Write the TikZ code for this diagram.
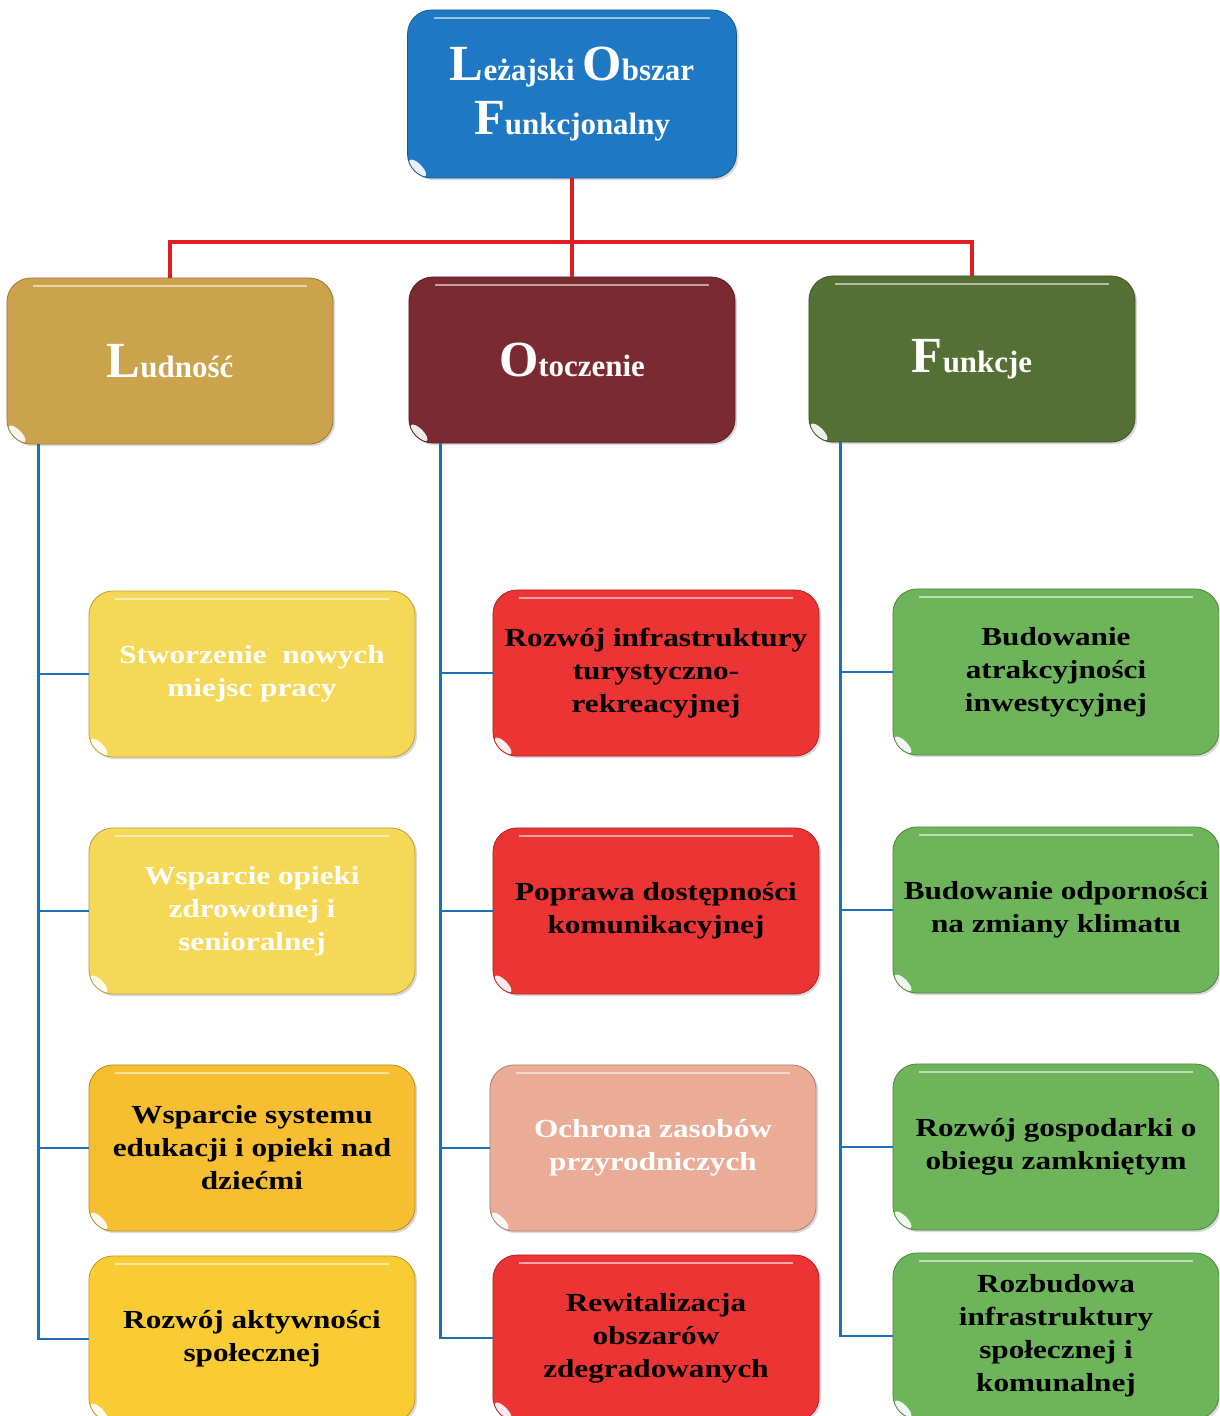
\documentclass[tikz,border=0pt]{standalone}
\usepackage{fontspec}
\setmainfont{Liberation Serif}
\newfontfamily\boxfont{Liberation Serif}[FakeStretch=1.2]
\usetikzlibrary{calc,shadows}

\definecolor{titleblue}{RGB}{31,120,196}
\definecolor{ludcol}{RGB}{204,163,77}
\definecolor{otocol}{RGB}{122,42,48}
\definecolor{funcol}{RGB}{84,112,52}
\definecolor{paleyellow}{RGB}{246,216,88}
\definecolor{amber}{RGB}{246,190,48}
\definecolor{goldbox}{RGB}{250,204,52}
\definecolor{brightred}{RGB}{236,52,52}
\definecolor{salmon}{RGB}{234,172,150}
\definecolor{leafgreen}{RGB}{110,180,90}
\definecolor{linered}{RGB}{222,30,36}
\definecolor{lineblue}{RGB}{28,112,184}

\newcommand{\ini}[1]{{\fontsize{36}{39}\selectfont #1}}

\tikzset{
  box/.style={rounded corners=0.6cm, align=center, inner sep=2pt,
    minimum width=8.15cm, minimum height=4.15cm,
    fill=#1, draw=#1!75!black, line width=0.6pt,
    drop shadow={opacity=0.3, shadow xshift=1.5pt, shadow yshift=-1.5pt},
    path picture={
      \draw[white, opacity=0.55, line width=2pt]
        ($(path picture bounding box.north west)+(26,8)$) --
        ($(path picture bounding box.north east)+(-26,8)$);
      \fill[white, opacity=0.9]
        ($(path picture bounding box.south west)+(10,-10)$)
        circle [x radius=0.28cm, y radius=0.11cm, rotate=-45];
    }},
  head/.style={box=#1, text=white, font=\bfseries\fontsize{22}{39}\selectfont},
  item/.style={box=#1, font=\boxfont\bfseries\fontsize{18.5}{23.5}\selectfont},
  redline/.style={draw=linered, line width=2.2pt},
  blueline/.style={draw=lineblue, line width=1.8pt},
}

\begin{document}
\begin{tikzpicture}[x=0.025cm, y=-0.025cm]
\useasboundingbox (0,0) rectangle (1219,1416);
\clip (0,0) rectangle (1219,1416);

\node[head=titleblue, minimum width=8.22cm, minimum height=4.2cm] (lof) at (572,94)
  {\ini{L}eżajski \ini{O}bszar\\\ini{F}unkcjonalny};

\node[head=ludcol] (lud) at (170,361) {\ini{L}udność};
\node[head=otocol] (oto) at (572,360) {\ini{O}toczenie};
\node[head=funcol] (fun) at (972,359) {\ini{F}unkcje};

% Ludnosc
\node[item=paleyellow, text=white] (l1) at (252,674) {Stworzenie\ \ nowych\\miejsc pracy};
\node[item=paleyellow, text=white] (l2) at (252,911) {Wsparcie opieki\\zdrowotnej i\\senioralnej};
\node[item=amber] (l3) at (252,1148) {Wsparcie systemu\\edukacji i opieki nad\\dziećmi};
\node[item=goldbox] (l4) at (252,1339) {Rozwój aktywności\\społecznej};

% Otoczenie
\node[item=brightred] (o1) at (656,673) {Rozwój infrastruktury\\turystyczno-\\rekreacyjnej};
\node[item=brightred] (o2) at (656,911) {Poprawa dostępności\\komunikacyjnej};
\node[item=salmon, text=white] (o3) at (653,1148) {Ochrona zasobów\\przyrodniczych};
\node[item=brightred] (o4) at (656,1338) {Rewitalizacja\\obszarów\\zdegradowanych};

% Funkcje
\node[item=leafgreen] (f1) at (1056,672) {Budowanie\\atrakcyjności\\inwestycyjnej};
\node[item=leafgreen] (f2) at (1056,910) {Budowanie odporności\\na zmiany klimatu};
\node[item=leafgreen] (f3) at (1056,1147) {Rozwój gospodarki o\\obiegu zamkniętym};
\node[item=leafgreen] (f4) at (1056,1336) {Rozbudowa\\infrastruktury\\społecznej i\\komunalnej};

\coordinate (bus) at (572,242);
\draw[redline] (lof.south) -- (oto.north);
\draw[redline] (lud.north) |- (bus) -| (fun.north);

\foreach \c/\h in {l/lud, o/oto, f/fun}
  \foreach \r in {1,...,4}
    \draw[blueline] ($(\h.south west)+(32,0)$) |- (\c\r.west);
\end{tikzpicture}
\end{document}
